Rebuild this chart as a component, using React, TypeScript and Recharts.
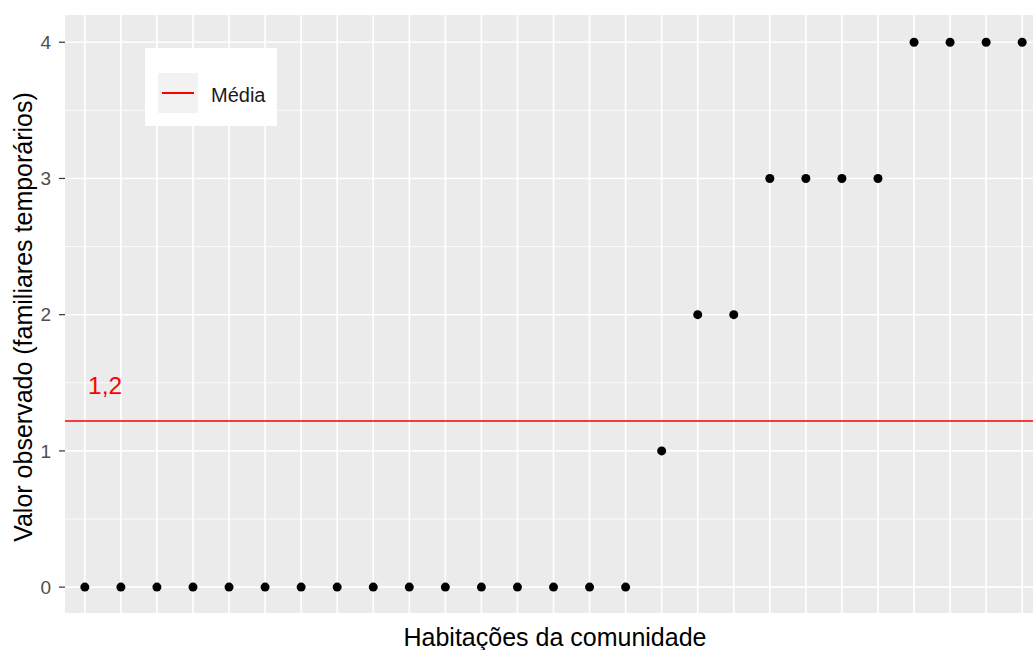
import { ScatterChart, Scatter, XAxis, YAxis, CartesianGrid, ReferenceLine } from "recharts"

// valor observado por habitação (familiares temporários)
const valores = [0, 0, 0, 0, 0, 0, 0, 0, 0, 0, 0, 0, 0, 0, 0, 0, 1, 2, 2, 3, 3, 3, 3, 4, 4, 4, 4]
const habitacoes = [1, 2, 3, 4, 5, 6, 7, 8, 9, 10, 11, 12, 13, 14, 15, 16, 17, 18, 19, 20, 21, 22, 23, 24, 25, 26, 27]
const yTicks = [0, 1, 2, 3, 4]
const yMinor = [0.5, 1.5, 2.5, 3.5]
const media = 1.22
const mediaLabel = "1,2"

const pontos = habitacoes.map((h, i) => ({ x: h, y: valores[i] }))

const FONT = "'Liberation Sans', Arial, sans-serif"

export default function App() {
  return (
    <div style={{ position: "fixed", left: 0, top: 0, width: 1033, height: 650, background: "#fff", fontFamily: FONT }}>
      <ScatterChart width={1033} height={650} margin={{ top: 15, right: 0, left: 0, bottom: 0 }}>
        <CartesianGrid fill="#EBEBEB" stroke="#FFFFFF" strokeWidth={0.8} horizontalValues={yMinor} vertical={false} />
        <XAxis
          type="number"
          dataKey="x"
          domain={[0.45, 27.3]}
          allowDataOverflow
          tick={false}
          tickLine={false}
          axisLine={false}
          height={37}
          label={{
            content: () => (
              <text x={555} y={646} textAnchor="middle" fontSize={25} fontFamily={FONT} fill="#000">
                Habitações da comunidade
              </text>
            ),
          }}
        />
        <YAxis
          type="number"
          dataKey="y"
          domain={[-0.19, 4.2]}
          ticks={yTicks}
          allowDataOverflow
          width={65}
          axisLine={false}
          tickSize={6}
          tickMargin={8}
          tickLine={{ stroke: "#333333", strokeWidth: 1.2 }}
          tick={{ fill: "#4D4D4D", fontSize: 19, fontFamily: FONT }}
          label={{
            content: () => (
              <text
                x={32}
                y={317}
                transform="rotate(-90, 32, 317)"
                textAnchor="middle"
                fontSize={25}
                fontFamily={FONT}
                fill="#000"
              >
                Valor observado (familiares temporários)
              </text>
            ),
          }}
        />
        {yTicks.map((t) => (
          <ReferenceLine key={"h" + t} y={t} stroke="#FFFFFF" strokeWidth={1.6} />
        ))}
        {habitacoes.map((h) => (
          <ReferenceLine key={"v" + h} x={h} stroke="#FFFFFF" strokeWidth={1.6} />
        ))}
        <ReferenceLine
          y={media}
          stroke="#FF0000"
          strokeWidth={1.6}
          label={{
            content: (props: any) => {
              const vb = props.viewBox || {}
              return (
                <text x={(vb.x || 65) + 23} y={(vb.y || 420) - 27} fontSize={24.5} fontFamily={FONT} fill="#FF0000">
                  {mediaLabel}
                </text>
              )
            },
          }}
        />
        <Scatter
          data={pontos}
          fill="#000000"
          isAnimationActive={false}
          shape={(p: any) => <circle cx={p.cx} cy={p.cy} r={4.5} fill="#000" />}
        />
      </ScatterChart>
      <div style={{ position: "absolute", left: 145, top: 48, width: 132, height: 78, background: "#fff" }}>
        <div style={{ position: "absolute", left: 13, top: 25, width: 40, height: 40, background: "#F2F2F2" }}>
          <div style={{ position: "absolute", left: 4, top: 19, width: 32, height: 2, background: "#FF0000" }} />
        </div>
        <div style={{ position: "absolute", left: 66, top: 37, fontSize: 20, lineHeight: "20px", color: "#1A1A1A" }}>
          Média
        </div>
      </div>
    </div>
  )
}
